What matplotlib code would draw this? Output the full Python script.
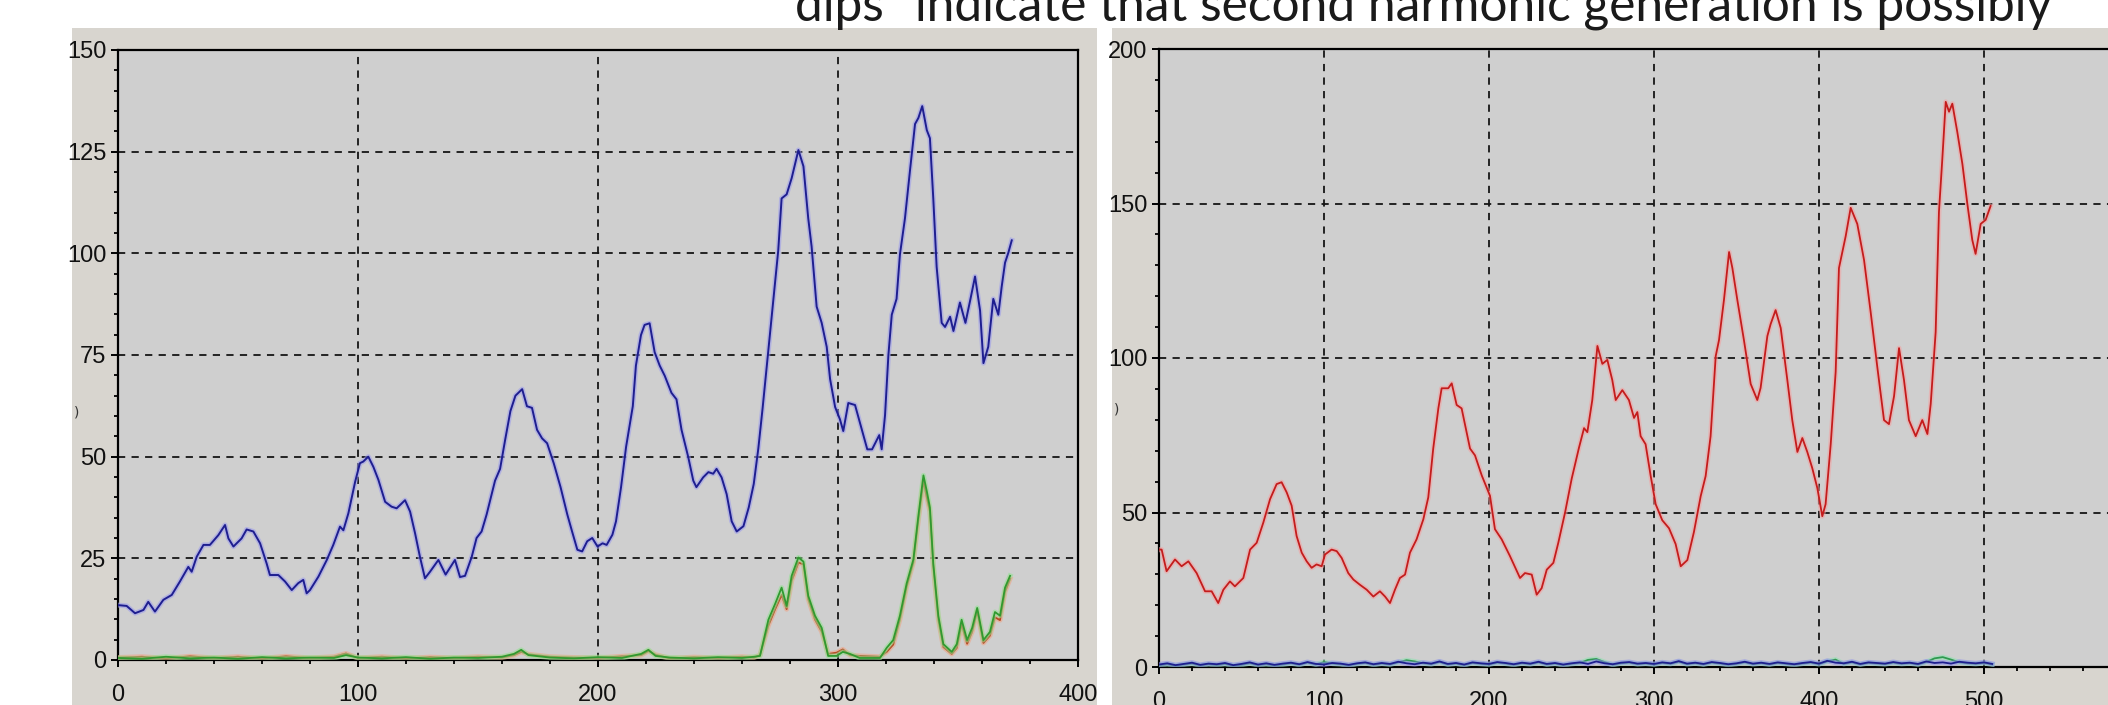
import numpy as np
import matplotlib
matplotlib.use("Agg")
import matplotlib.pyplot as plt
from matplotlib.patches import Rectangle
from matplotlib.ticker import MultipleLocator
import matplotlib.patheffects as pe

# ---------------- data ----------------
title_text = 'dips" indicate that second harmonic generation is possibly'

left_blue_x = [0, 3.6, 7.1, 10.6, 12.6, 15.4, 18.9, 22.4, 25.8, 29.3, 30.7, 32.8, 35.6, 38.3, 41.8, 44.6, 46.0,
               48.1, 51.5, 53.6, 56.4, 59.2, 61.9, 63.3, 66.8, 69.6, 72.4, 75.1, 77.2, 78.6, 80.0, 83.5, 87.0,
               89.7, 92.5, 93.9, 96.0, 98.8, 100.8, 102.2, 104.3, 106.4, 108.5, 111.3, 114.0, 116.1, 119.6,
               121.7, 123.8, 125.8, 127.9, 130.0, 133.5, 136.5, 140.4, 142.5, 144.6, 147.4, 149.4, 151.5,
               153.6, 155.7, 157.1, 159.2, 161.3, 163.5, 165.6, 168.4, 170.4, 172.5, 174.6, 176.7, 178.8,
               181.6, 184.4, 187.2, 189.2, 191.4, 193.4, 195.5, 197.6, 199.8, 201.9, 203.6, 206.0, 207.5,
               209.6, 211.7, 213.1, 214.5, 215.8, 217.9, 219.4, 221.5, 223.6, 225.7, 227.8, 230.6, 232.7,
               234.8, 237.6, 239.7, 241.0, 243.8, 246.0, 248.0, 249.4, 251.5, 253.6, 255.7, 257.8, 260.6,
               262.8, 264.9, 266.8, 268.6, 270.6, 273.1, 275.1, 276.5, 278.6, 280.7, 283.5, 285.6, 287.6,
               289.0, 291.1, 293.2, 295.3, 296.7, 298.8, 300.8, 302.2, 304.3, 307.1, 309.2, 312.2, 314.2,
               317.2, 318.2, 319.6, 321.0, 322.4, 324.4, 325.8, 327.9, 330.0, 332.1, 333.5, 335.1, 337.0,
               338.3, 339.7, 341.1, 343.2, 344.6, 346.7, 348.1, 350.8, 353.1, 355.2, 357.1, 359.2, 360.6,
               362.6, 364.7, 366.8, 368.2, 369.6, 371.0, 372.4]
left_blue_y = [13.5, 13.3, 11.5, 12.3, 14.3, 11.9, 14.8, 16.0, 19.3, 22.9, 21.7, 25.4, 28.3, 28.3, 30.7, 33.2, 29.9,
               27.9, 29.9, 32.1, 31.6, 28.7, 23.8, 20.9, 20.9, 19.3, 17.2, 18.9, 19.7, 16.4, 17.2, 20.5, 24.6,
               28.3, 32.8, 31.9, 36.1, 43.8, 48.4, 48.8, 50.0, 47.5, 44.3, 38.9, 37.7, 37.3, 39.3,
               36.5, 31.1, 25.4, 20.1, 21.7, 24.6, 21.0, 24.6, 20.4, 20.7, 25.4, 30.0, 31.6,
               35.8, 40.8, 44.1, 47.0, 54.1, 61.2, 65.0, 66.6, 62.4, 62.0, 56.6, 54.5, 53.3,
               48.3, 42.5, 35.8, 31.6, 27.1, 26.7, 29.2, 30.0, 27.9, 28.7, 28.3, 30.8, 34.1,
               42.5, 52.4, 57.4, 62.4, 72.4, 79.9, 82.4, 82.8, 75.7, 72.4, 69.9, 65.7, 64.1,
               56.6, 49.9, 44.1, 42.5, 44.9, 46.2, 45.8, 47.0, 44.9, 40.8, 34.1, 31.6, 32.9,
               37.5, 43.3, 52.0, 62.0, 74.0, 88.8, 100.7, 113.5, 114.5, 118.5, 125.4, 121.4, 108.6,
               101.7, 86.9, 82.9, 77.0, 69.1, 62.2, 59.2, 56.3, 63.2, 62.7, 58.2, 51.8, 51.8,
               55.3, 51.8, 60.2, 75.0, 84.9, 88.8, 99.7, 108.6, 120.4, 131.8, 133.3, 136.2, 130.3,
               128.3, 113.5, 96.7, 82.9, 81.9, 84.4, 80.9, 87.9, 82.9, 88.8, 94.3, 85.9, 73.0,
               77.0, 88.8, 84.9, 91.8, 97.7, 100.2, 103.2]

left_green_x = [0, 10, 20, 30, 40, 50, 60, 70, 80, 90, 95, 100, 110, 120, 130, 140, 150, 160, 165, 168, 171,
                180, 190, 200, 210, 218, 221, 224, 230, 240, 250, 260, 265, 267.5, 271, 273.8, 276.5, 278.6,
                280.7, 283.5, 285.6, 287.6, 290.4, 293.2, 295.9, 299.4, 302, 305, 309, 317.5, 320.3, 323,
                325.8, 328.6, 331.4, 333.5, 335.6, 337, 338.3, 339.7, 341.8, 343.9, 347.4, 349.5, 351.5,
                353.8, 355.9, 358, 360.6, 363.3, 365.4, 367.5, 369.6, 371.7]
left_green_y = [0.5, 0.3, 0.8, 0.4, 0.6, 0.3, 0.7, 0.4, 0.6, 0.5, 1.2, 0.6, 0.4, 0.7, 0.3, 0.6, 0.5, 0.8, 1.5,
                2.5, 1.2, 0.6, 0.4, 0.7, 0.5, 1.5, 2.5, 1.0, 0.6, 0.4, 0.7, 0.5, 0.8, 1.0, 9.9, 13.8, 17.8,
                13.3, 20.7, 25.2, 24.2, 15.8, 10.9, 7.9, 1.0, 1.0, 2.0, 1.5, 0.5, 0.5, 3.0, 4.9, 10.9, 18.8,
                24.7, 35.5, 45.4, 41.5, 37.5, 23.7, 10.9, 3.9, 2.0, 3.9, 9.9, 4.9, 7.9, 12.8, 4.9, 6.9,
                11.8, 10.9, 17.8, 20.7]
left_red_y = [0.6, 0.8, 0.4, 0.9, 0.5, 0.8, 0.4, 0.9, 0.5, 0.8, 1.6, 0.5, 0.8, 0.4, 0.7, 0.5, 0.8, 0.6, 1.2,
              2.0, 1.4, 0.8, 0.6, 0.5, 0.9, 1.2, 2.2, 1.3, 0.4, 0.7, 0.5, 0.8, 0.6, 1.2, 8.5, 12.5, 16.0,
              12.5, 19.5, 24.0, 23.5, 15.0, 10.0, 7.0, 1.5, 1.8, 2.6, 1.2, 1.0, 0.8, 2.0, 3.8, 10.0, 18.0,
              24.0, 34.5, 44.0, 40.0, 36.5, 23.0, 10.0, 3.2, 1.5, 3.0, 8.8, 4.0, 7.0, 12.0, 4.2, 6.0,
              10.5, 9.8, 16.8, 20.0]

right_red_x = [0, 1.6, 4.6, 9.7, 13.7, 17.8, 22.8, 27.9, 31.9, 35.9, 39, 43, 46, 51.1, 55.2, 59.2, 63.2, 67.3,
               71.3, 74.3, 77.4, 80.4, 83.4, 86.5, 89.5, 92.5, 95.5, 98.6, 100.6, 104.6, 107.7, 110.7, 114.7,
               117.8, 121.8, 125.9, 129.9, 133.9, 137, 140, 143, 146, 149.1, 152.1, 156.1, 160.2, 163.2,
               166.2, 169.3, 171.3, 175.3, 177.4, 180.4, 183.4, 188.5, 191.5, 195.6, 200.6, 203.6, 207.7,
               212.7, 218.8, 221.8, 225.9, 228.9, 231.9, 235, 239, 242, 246.1, 250.1, 254.5, 257.6, 259.6,
               262.6, 265.7, 268.7, 271.7, 274.7, 276.8, 280.8, 284.8, 287.9, 289.9, 291.9, 294.9, 298, 301,
               305, 309.1, 313.1, 316.2, 320.2, 324.2, 328.3, 331.3, 334.3, 337.4, 339.4, 342.4, 345.5,
               347.5, 350.5, 354.5, 358.6, 362.6, 364.6, 368.7, 370.7, 373.7, 376.8, 380.8, 383.8, 386.9,
               389.9, 392.9, 395.9, 399, 402, 404, 407.1, 410.1, 412.1, 416.2, 419.2, 423.2, 427.3, 431.3,
               435.4, 439.4, 442.4, 445.5, 448.5, 451.5, 454.5, 458.6, 462.6, 465.7, 467.7, 470.7, 472.7,
               474.7, 476.8, 478.8, 480.8, 483.8, 486.9, 489.9, 492.9, 494.9, 498, 501, 504]
right_red_y = [38, 38, 31, 34.8, 32.6, 34.2, 30.4, 24.5, 24.5, 20.7, 25, 27.7, 26.1, 28.8, 38, 40.2, 46.7, 54.3,
               59.2, 59.8, 56.5, 52.2, 42.4, 37, 34.2, 32.1, 33.2, 32.6, 36.4, 38, 37.5, 35.3, 30.4,
               28.3, 26.6, 25, 22.8, 24.5, 22.8, 20.7, 25, 28.8, 29.9, 37, 41.3, 47.8, 54.9,
               70.7, 83.7, 90.2, 90.2, 91.8, 84.8, 83.7, 70.7, 68.5, 62, 55.4, 44.6, 41.3,
               35.9, 28.8, 30.4, 29.9, 23.4, 25.5, 31.5, 33.7, 40.2, 50, 60.9, 70.9, 77.3, 76,
               86.4, 103.9, 98.1, 99.4, 92.9, 86.4, 89.6, 86.4, 80.6, 82.5, 74.7, 72.1, 61.8, 52.7,
               47.5, 44.9, 39.8, 32.6, 34.6, 43.7, 55.3, 61.8, 74.7, 100.6, 105.8, 118.8, 134.3,
               129.1, 118.8, 105.8, 91.6, 86.4, 90.3, 107.1, 111, 115.5, 109.7, 92.9, 79.9, 69.6,
               74.1, 69.6, 64.4, 57.9, 48.8, 52.7, 72.1, 95.5, 129.1, 139.5, 148.6, 143.4, 131.7, 114.9,
               96.8, 79.9, 78.6, 87.7, 103.2, 92.9, 79.9, 74.7, 79.9, 75.4, 85.1, 108.4, 147.3,
               164.1, 182.9, 179.7, 182.3, 173.2, 162.8, 149.9, 138.2, 133.7, 143.4, 144.7, 149.2]

right_blue_y = [0.8, 1.2, 0.6, 1.0, 1.4, 0.7, 1.1, 0.9, 1.3, 0.6,
                1.0, 1.5, 0.8, 1.2, 0.7, 1.1, 1.4, 0.9, 1.6, 1.0,
                0.8, 1.3, 1.1, 0.7, 1.2, 1.5, 0.9, 1.3, 1.0, 1.7,
                1.2, 0.9, 1.4, 1.1, 1.8, 1.0, 1.3, 0.8, 1.5, 1.2,
                1.0, 1.6, 1.3, 0.9, 1.4, 1.1, 1.7, 1.0, 1.3, 0.8,
                1.2, 1.5, 1.0, 1.8, 1.2, 0.9, 1.4, 1.6, 1.1, 1.3,
                1.0, 1.5, 1.2, 1.9, 1.1, 1.4, 1.0, 1.6, 1.3, 0.9,
                1.2, 1.7, 1.1, 1.4, 1.0, 1.5, 1.2, 0.9, 1.3, 1.6,
                1.1, 2.0, 1.4, 1.2, 1.7, 1.0, 1.5, 1.3, 1.1, 1.6,
                1.2, 1.4, 1.0, 1.8, 1.3, 1.5, 1.1, 1.7, 1.4, 1.2,
                1.5, 1.0]
right_green_y = [0.5, 0.9, 0.4, 0.8, 1.1, 0.5, 0.9, 0.6, 1.0, 0.4,
                 0.7, 1.2, 0.6, 0.9, 0.5, 0.8, 1.2, 0.7, 1.4, 0.8,
                 1.6, 1.1, 0.9, 0.5, 1.0, 1.3, 0.7, 1.1, 0.8, 1.5,
                 2.2, 1.8, 1.2, 0.9, 1.6, 0.8, 1.1, 0.6, 1.3, 1.0,
                 0.8, 1.4, 1.1, 0.7, 1.2, 0.9, 1.5, 0.8, 1.1, 0.6,
                 1.0, 1.3, 2.3, 2.6, 1.6, 0.7, 1.2, 1.4, 0.9, 1.1,
                 0.8, 1.3, 1.0, 1.7, 0.9, 1.2, 0.8, 1.4, 1.1, 0.7,
                 1.0, 1.5, 0.9, 1.2, 0.8, 1.3, 1.0, 0.7, 1.1, 1.4,
                 0.9, 1.8, 2.4, 1.0, 1.5, 0.8, 1.3, 1.1, 0.9, 1.4,
                 1.0, 1.2, 0.8, 1.6, 2.8, 3.2, 2.4, 1.5, 1.2, 1.0,
                 1.3, 0.8]
right_noise_x = np.arange(len(right_blue_y)) * 5

left_xticks = [0, 100, 200, 300, 400]
left_yticks = [0, 25, 50, 75, 100, 125, 150]
right_xticks = [0, 100, 200, 300, 400, 500, 600]
right_yticks = [0, 50, 100, 150, 200]

# ---------------- layout ----------------
W, H = 2108, 705
fig = plt.figure(figsize=(W / 100, H / 100), dpi=100)
fig.patch.set_facecolor('white')

FRAME = '#d8d5cf'
PLOT_BG = '#cfcfcf'
fig.add_artist(Rectangle((72 / W, 0), (1097 - 72) / W, (H - 28) / H, transform=fig.transFigure,
                         facecolor=FRAME, edgecolor='none', zorder=0))
fig.add_artist(Rectangle((1112 / W, 0), (W - 1112) / W, (H - 28) / H, transform=fig.transFigure,
                         facecolor=FRAME, edgecolor='none', zorder=0))

tick_font = ['Liberation Sans Narrow', 'Liberation Sans', 'DejaVu Sans']
grid_style = dict(color='#151515', linestyle=(0, (4, 3.5)), linewidth=1.3)


def style_axes(ax, xmin, ymin, xticks, yticks):
    ax.set_facecolor(PLOT_BG)
    ax.set_xticks(xticks)
    ax.set_yticks(yticks)
    ax.xaxis.set_minor_locator(MultipleLocator(xmin))
    ax.yaxis.set_minor_locator(MultipleLocator(ymin))
    for s in ax.spines.values():
        s.set_linewidth(1.6)
        s.set_color('black')
    ax.tick_params(which='major', direction='out', length=5, width=1.4, color='black')
    ax.tick_params(which='minor', direction='out', length=3, width=1.3, color='black')
    ax.tick_params(axis='x', which='major', pad=12)
    ax.tick_params(axis='y', which='major', pad=3.5)
    for lab in ax.get_xticklabels() + ax.get_yticklabels():
        lab.set_fontfamily(tick_font)
        lab.set_fontsize(17)
        lab.set_color('#111111')
    ax.grid(True, which='major', **grid_style)


def halo(c, w=3.6):
    return [pe.Stroke(linewidth=w, foreground=c, alpha=0.55), pe.Normal()]


# Left panel
axL = fig.add_axes([118 / W, (H - 660) / H, 960 / W, 610 / H])
axL.set_xlim(0, 400)
axL.set_ylim(0, 150)
style_axes(axL, 20, 5, left_xticks, left_yticks)
axL.plot(left_green_x, left_red_y, color='#b84a24', lw=1.3, zorder=3, path_effects=halo('#f0a080'))
axL.plot(left_green_x, left_green_y, color='#2f9a2f', lw=1.3, zorder=4, path_effects=halo('#8fe28f'))
axL.plot(left_blue_x, left_blue_y, color='#1e1e90', lw=1.4, zorder=5, path_effects=halo('#9a9aee'))

# Right panel
axR = fig.add_axes([1159 / W, (H - 667) / H, 990 / W, 618 / H])
axR.set_xlim(0, 600)
axR.set_ylim(0, 200)
style_axes(axR, 20, 10, right_xticks, right_yticks)
axR.plot(right_red_x, right_red_y, color='#c41c1c', lw=1.3, zorder=4, path_effects=halo('#f4a0a0'))
axR.plot(right_noise_x, right_green_y, color='#2f9a4f', lw=1.3, zorder=3, path_effects=halo('#8fe2b0'))
axR.plot(right_noise_x, right_blue_y, color='#1e1e90', lw=1.3, zorder=5, path_effects=halo('#8a8aee'))

# cut-off axis label fragments
fig.text(74 / W, 1 - 413 / H, ')', fontsize=10, color='#333333', ha='left', va='center')
fig.text(1114 / W, 1 - 410 / H, ')', fontsize=10, color='#333333', ha='left', va='center')

# Title (cropped at the top)
fig.text(795 / W, 1 - 21 / H, title_text, fontsize=35.7, family=['Lato', 'DejaVu Sans'],
         color='#1a1a1a', ha='left', va='baseline')

fig.savefig('out.png', dpi=100)
